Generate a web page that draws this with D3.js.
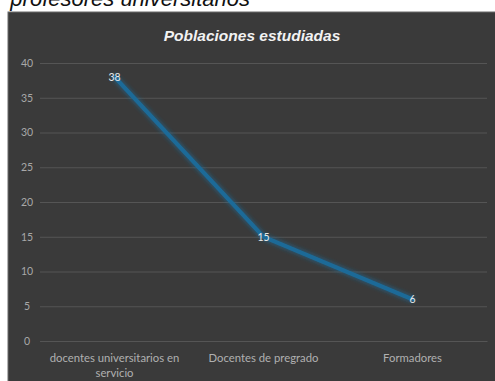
<!DOCTYPE html>
<html><head><meta charset="utf-8">
<script src="https://cdn.jsdelivr.net/npm/d3@7"></script>
<style>html,body{margin:0;padding:0;background:#fff;overflow:hidden}</style>
</head><body>
<svg id="c" width="495" height="381"></svg>
<script>
const categories = ["docentes universitarios en servicio", "Docentes de pregrado", "Formadores"];
const categoryLines = [["docentes universitarios en", "servicio"], ["Docentes de pregrado"], ["Formadores"]];
const values = [38, 15, 6];
const yTicks = [0, 5, 10, 15, 20, 25, 30, 35, 40];
const title = "Poblaciones estudiadas";
const caption = "profesores universitarios";

(function(){
const svg = d3.select("#c");
const defs = svg.append("defs");
const f = defs.append("filter").attr("id","glow").attr("x","-20%").attr("y","-20%").attr("width","140%").attr("height","140%");
f.append("feGaussianBlur").attr("stdDeviation",2.5).attr("result","b");
const m = f.append("feMerge"); m.append("feMergeNode").attr("in","b"); m.append("feMergeNode").attr("in","SourceGraphic");

svg.append("text").attr("x",250).attr("y",6).attr("text-anchor","end")
  .attr("font-family","Liberation Sans, Arial, sans-serif").attr("font-style","italic")
  .attr("font-size",22).attr("fill","#111").text(caption);

svg.append("rect").attr("x",8).attr("y",12).attr("width",495).attr("height",380)
  .attr("fill","#3a3a3a").attr("stroke","#6a6a6a").attr("stroke-width",1);

svg.append("text").attr("x",252).attr("y",41).attr("text-anchor","middle")
  .attr("font-family","Liberation Sans, Arial, sans-serif").attr("font-style","italic").attr("font-weight","bold")
  .attr("font-size",15.5).attr("fill","#f2f2f2").text(title);

const pl = 40, pr = 487, pt = 63, pb = 341;
const x = d3.scaleBand().domain(categories).range([pl, pr]);
const y = d3.scaleLinear().domain([0, 40]).range([pb, pt]);

const yAxis = d3.axisLeft(y).tickValues(yTicks).tickSize(-(pr-pl)).tickPadding(9);
const gy = svg.append("g").attr("transform",`translate(${pl},0)`).call(yAxis);
gy.select(".domain").remove();
gy.selectAll(".tick line").attr("stroke","#555").attr("stroke-width",1);
gy.selectAll(".tick text").attr("fill","#a8a8a8").attr("font-size",10.5)
  .attr("font-family","Lato, Liberation Sans, sans-serif").attr("text-anchor","middle").attr("dx",-4);

const xAxis = d3.axisBottom(x).tickSize(0).tickFormat(() => "");
const gx = svg.append("g").attr("transform",`translate(0,${pb})`).call(xAxis);
gx.select(".domain").attr("stroke","#555");
gx.selectAll(".tick").each(function(d,i){
  const t = d3.select(this).append("text").attr("fill","#b0b0b0").attr("font-size",11.3)
    .attr("font-family","Lato, Liberation Sans, sans-serif").attr("text-anchor","middle");
  categoryLines[i].forEach((ln,j)=>t.append("tspan").attr("x",0).attr("y",21 + j*15).text(ln));
});

const line = d3.line().x((d,i)=>x(categories[i]) + x.bandwidth()/2).y(d=>y(d));
svg.append("path").datum(values).attr("d",line).attr("fill","none")
  .attr("stroke","#1d6b98").attr("stroke-width",4).attr("stroke-linecap","round").attr("filter","url(#glow)");

svg.selectAll(".lbl").data(values).enter().append("text").attr("class","lbl")
  .attr("x",(d,i)=>x(categories[i]) + x.bandwidth()/2).attr("y",d=>y(d)+4)
  .attr("text-anchor","middle").attr("font-size",10.5).attr("fill","#e8e8e8")
  .attr("font-family","Lato, Liberation Sans, sans-serif").text(d=>d);
})();
</script>
</body></html>
